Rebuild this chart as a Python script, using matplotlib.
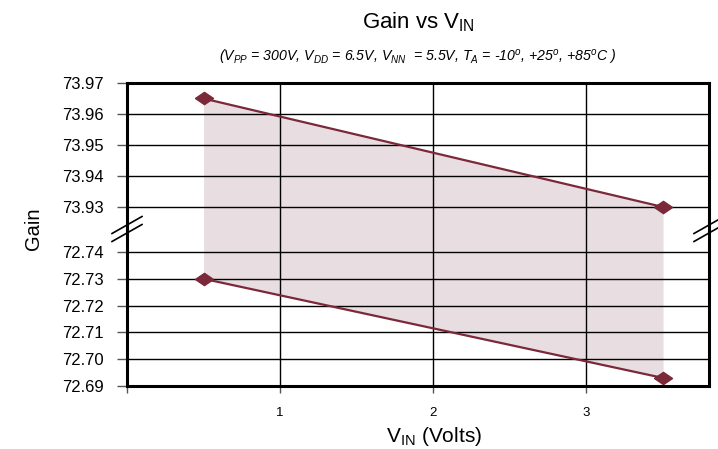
import numpy as np
import matplotlib.pyplot as plt
from matplotlib.lines import Line2D

#------------------------------------------------------------------------
#!Datos

v_in = [0.5, 3.5]
gain_alta = [73.965, 73.930]
gain_baja = [72.730, 72.693]

y_ticks = [72.69, 72.70, 72.71, 72.72, 72.73, 72.74, 73.93, 73.94, 73.95, 73.96, 73.97]
x_ticks = [0, 1, 2, 3]
x_labels = ["", "1", "2", "3"]

color_linea = "#7b2839"
color_relleno = "#e8dde0"

#------------------------------------------------------------------------
#!Escala con corte en el eje y

tramos = [72.69, 72.74, 73.93, 73.97]
alturas = [0, 134, 179, 303]

def adelante(y):
    return np.interp(y, tramos, alturas)

def inversa(p):
    return np.interp(p, alturas, tramos)

fuente_narrow = ["Liberation Sans Narrow", "Liberation Sans", "DejaVu Sans"]
plt.rcParams["font.family"] = ["Liberation Sans", "DejaVu Sans"]

W, H = 718, 449
fig = plt.figure(figsize=(W / 100, H / 100), dpi=100)
x0, x1, ytop, ybot = 127, 709, 83, 386
ax = fig.add_axes([x0 / W, 1 - ybot / H, (x1 - x0) / W, (ybot - ytop) / H])

ax.set_yscale("function", functions=(adelante, inversa))
ax.set_ylim(72.69, 73.97)
ax.set_xlim(0, 3.8)

ax.fill_between(v_in, gain_baja, gain_alta, color=color_relleno, lw=0, zorder=1)
diamante = [(-1, 0), (0, 0.68), (1, 0), (0, -0.68), (-1, 0)]
ax.plot(v_in, gain_alta, color=color_linea, lw=1.6, marker=diamante, ms=13, zorder=4, clip_on=False)
ax.plot(v_in, gain_baja, color=color_linea, lw=1.6, marker=diamante, ms=13, zorder=4, clip_on=False)

ax.set_yticks(y_ticks)
ax.set_yticklabels(["%.2f" % t for t in y_ticks], fontsize=12)
ax.yaxis.set_minor_locator(plt.NullLocator())
ax.set_xticks(x_ticks)
ax.set_xticklabels(x_labels, fontsize=9.5, family=fuente_narrow)
ax.tick_params(axis="y", length=7, width=1, color="#555555", pad=10)
ax.tick_params(axis="x", length=5, width=1, color="#555555", pad=10)
ax.grid(True, color="black", lw=1)
ax.set_axisbelow(False)
for s in ax.spines.values():
    s.set_linewidth(2.2)
    s.set_zorder(5)

#------------------------------------------------------------------------
#!Textos

xc = (x0 + x1) / 2 / W
fig.text(xc, 1 - 22 / H, r"Gain vs V$\mathregular{_{IN}}$", ha="center", va="center",
         fontsize=16, family=fuente_narrow)
sub = (r"(V$\mathregular{_{PP}}$ = 300V, V$\mathregular{_{DD}}$ = 6.5V, "
       r"V$\mathregular{_{NN}}$  = 5.5V, T$\mathregular{_{A}}$ = -10$\mathregular{^{o}}$, "
       r"+25$\mathregular{^{o}}$, +85$\mathregular{^{o}}$C )")
fig.text(xc, 1 - 57 / H, sub, ha="center", va="center", fontsize=10.2,
         style="italic", family=fuente_narrow)
fig.text(34 / W, 1 - 229 / H, "Gain", rotation=90, ha="center", va="center",
         fontsize=14.5, family=fuente_narrow)
fig.text(xc + 16 / W, 1 - 437 / H, r"V$\mathregular{_{IN}}$ (Volts)", ha="center", va="center",
         fontsize=15, family=fuente_narrow)

#------------------------------------------------------------------------
#!Marcas de corte

for xs in (x0, x1):
    for yc in (225, 233):
        fig.add_artist(Line2D([(xs - 15) / W, (xs + 15) / W],
                              [1 - (yc + 8.5) / H, 1 - (yc - 8.5) / H],
                              transform=fig.transFigure, color="black", lw=1.2))

fig.savefig("out.png", dpi=100)
